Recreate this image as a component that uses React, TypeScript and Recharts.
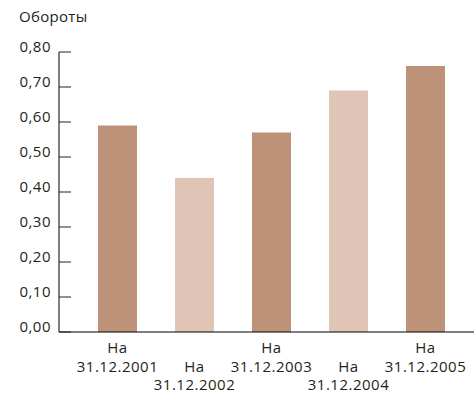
import { BarChart, Bar, XAxis, YAxis, Cell, Label } from 'recharts';

const dates = ['31.12.2001', '31.12.2002', '31.12.2003', '31.12.2004', '31.12.2005'];
const turnover = [0.59, 0.44, 0.57, 0.69, 0.76];
const yTicks = [0, 0.1, 0.2, 0.3, 0.4, 0.5, 0.6, 0.7, 0.8];
const prefix = 'На';
const title = 'Обороты';

const DARK = '#bd9278';
const LIGHT = '#e0c5b6';
const TEXT = '#231f20';
const FONT = '"Open Sans", sans-serif';

const data = dates.map((d, i) => ({ date: d, value: turnover[i] }));

function YTick(props: any) {
  const { x, y, payload } = props;
  return (
    <g>
      <line x1={x} x2={x + 12} y1={y} y2={y} stroke="#222" strokeWidth={1} />
      <text x={x - 8} y={y} textAnchor="end" fill={TEXT} fontSize={15} letterSpacing={0.5} fontFamily={FONT}>
        {Number(payload.value).toFixed(2).replace('.', ',')}
      </text>
    </g>
  );
}

function XTick(props: any) {
  const { x, y, payload, index } = props;
  const shift = index % 2 === 0 ? 0 : 18.5;
  return (
    <g>
      <text x={x} y={y + 21 + shift} textAnchor="middle" fill={TEXT} fontSize={15} letterSpacing={0.5} fontFamily={FONT}>
        {prefix}
      </text>
      <text x={x} y={y + 39.5 + shift} textAnchor="middle" fill={TEXT} fontSize={15} letterSpacing={0.5} fontFamily={FONT}>
        {payload.value}
      </text>
    </g>
  );
}

export default function App() {
  return (
    <div style={{ position: 'absolute', left: 0, top: 0, background: '#fff' }}>
      <BarChart width={474} height={394} data={data} margin={{ top: 52, right: 0, left: 0, bottom: 0 }}>
        <XAxis
          dataKey="date"
          height={62}
          padding={{ left: 20, right: 10 }}
          axisLine={{ stroke: '#000', strokeWidth: 1 }}
          tickLine={false}
          tickSize={0}
          tickMargin={0}
          interval={0}
          tick={<XTick />}
        />
        <YAxis
          width={59}
          domain={[0, 0.8]}
          ticks={yTicks}
          interval={0}
          axisLine={{ stroke: '#000', strokeWidth: 1 }}
          tickLine={false}
          tickSize={0}
          tickMargin={0}
          tick={<YTick />}
        >
          <Label
            content={() => (
              <text x={19} y={22} fill={TEXT} fontSize={15} letterSpacing={0.3} fontFamily={FONT}>
                {title}
              </text>
            )}
          />
        </YAxis>
        <Bar dataKey="value" barSize={39} isAnimationActive={false}>
          {data.map((_, i) => (
            <Cell key={i} fill={i % 2 === 0 ? DARK : LIGHT} />
          ))}
        </Bar>
      </BarChart>
    </div>
  );
}
